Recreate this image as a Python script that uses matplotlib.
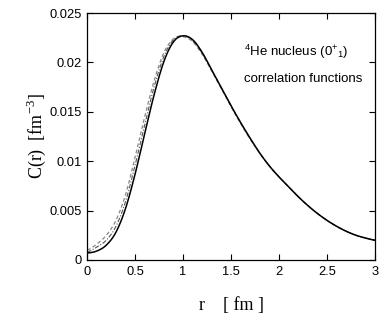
import matplotlib
matplotlib.use("Agg")
import matplotlib.pyplot as plt
import numpy as np

r = [0.0, 0.1, 0.2, 0.3, 0.4, 0.5, 0.6, 0.7, 0.8, 0.9, 1.0, 1.1, 1.2, 1.3, 1.4, 1.5,
     1.6, 1.7, 1.8, 1.9, 2.0, 2.1, 2.2, 2.3, 2.4, 2.5, 2.6, 2.7, 2.8, 2.9, 3.0]
c_solid = [0.0007, 0.0009, 0.0015, 0.0028, 0.0052, 0.0087, 0.0128, 0.0168, 0.0201, 0.0221,
           0.0227, 0.0223, 0.0210, 0.0192, 0.0174, 0.0156, 0.0139, 0.0123, 0.0108, 0.0095,
           0.0084, 0.0074, 0.0064, 0.0055, 0.0047, 0.0040, 0.0034, 0.0029, 0.0025, 0.00222, 0.0020]
c_dashed = [0.0010, 0.0016, 0.0025, 0.0040, 0.0066, 0.0104, 0.0145, 0.0182, 0.0210, 0.0224,
            0.0226, 0.0221, 0.0208, 0.0191, 0.0173, 0.0155, 0.0138, 0.0122, 0.0108, 0.0095,
            0.0084, 0.0074, 0.0064, 0.0055, 0.0047, 0.0040, 0.0034, 0.0029, 0.0025, 0.00222, 0.0020]
c_dashdot = [0.0008, 0.0013, 0.0020, 0.0034, 0.0059, 0.0096, 0.0137, 0.0176, 0.0206, 0.0223,
             0.0227, 0.0222, 0.0209, 0.0192, 0.0174, 0.0156, 0.0139, 0.0123, 0.0108, 0.0095,
             0.0084, 0.0074, 0.0064, 0.0055, 0.0047, 0.0040, 0.0034, 0.0029, 0.0025, 0.00222, 0.0020]
xticks = [0, 0.5, 1, 1.5, 2, 2.5, 3]
xticklabels = ["0", "0.5", "1", "1.5", "2", "2.5", "3"]
yticks = [0, 0.005, 0.01, 0.015, 0.02, 0.025]
yticklabels = ["0", "0.005", "0.01", "0.015", "0.02", "0.025"]


def smooth(x, y, n=301):
    """Catmull-Rom spline through the read points."""
    x = np.asarray(x); y = np.asarray(y)
    xs = np.linspace(x[0], x[-1], n)
    ys = np.empty_like(xs)
    for k, xv in enumerate(xs):
        i = min(int((xv - x[0]) / (x[1] - x[0])), len(x) - 2)
        t = (xv - x[i]) / (x[i + 1] - x[i])
        p0 = y[max(i - 1, 0)]; p1 = y[i]; p2 = y[i + 1]; p3 = y[min(i + 2, len(y) - 1)]
        ys[k] = 0.5 * ((2 * p1) + (-p0 + p2) * t + (2 * p0 - 5 * p1 + 4 * p2 - p3) * t * t
                       + (-p0 + 3 * p1 - 3 * p2 + p3) * t ** 3)
    return xs, ys


plt.rcParams['font.family'] = ['Liberation Sans', 'DejaVu Sans']
plt.rcParams['mathtext.fontset'] = 'custom'
plt.rcParams['mathtext.rm'] = 'Liberation Serif'
plt.rcParams['mathtext.sf'] = 'Liberation Sans'

fig = plt.figure(figsize=(3.82, 3.27), dpi=100)
ax = fig.add_axes([0.228, 0.205, 0.754, 0.755])

xs, ys = smooth(r, c_dashed)
ax.plot(xs, ys, color='#888888', lw=0.9, ls=(0, (3, 2)))
xs, ys = smooth(r, c_dashdot)
ax.plot(xs, ys, color='#555555', lw=0.8, ls=(0, (4, 1.5, 1, 1.5)))
xs, ys = smooth(r, c_solid)
ax.plot(xs, ys, color='black', lw=1.1)

ax.set_xlim(0, 3)
ax.set_ylim(0, 0.025)
ax.set_xticks(xticks)
ax.set_xticklabels(xticklabels)
ax.set_yticks(yticks)
ax.set_yticklabels(yticklabels)
ax.tick_params(direction='in', top=True, right=True, length=4, width=0.8,
               labelsize=9.3, pad=4)
for s in ax.spines.values():
    s.set_linewidth(0.9)

ax.set_xlabel(r"r    [ fm ]", family='Liberation Serif', fontsize=13, labelpad=14)
ax.set_ylabel(r"C(r)  [fm$^{-3}$]", family='Liberation Serif', fontsize=13, labelpad=1)

ax.text(0.545, 0.828, r"$^{\mathsf{4}}$He nucleus (0$^{\mathsf{+}}$$_{\mathsf{1}}$)",
        transform=ax.transAxes, fontsize=9.5, family='Liberation Sans')
ax.text(0.545, 0.722, "correlation functions", transform=ax.transAxes,
        fontsize=9.5, family='Liberation Sans')

fig.savefig("out.png", dpi=100)
